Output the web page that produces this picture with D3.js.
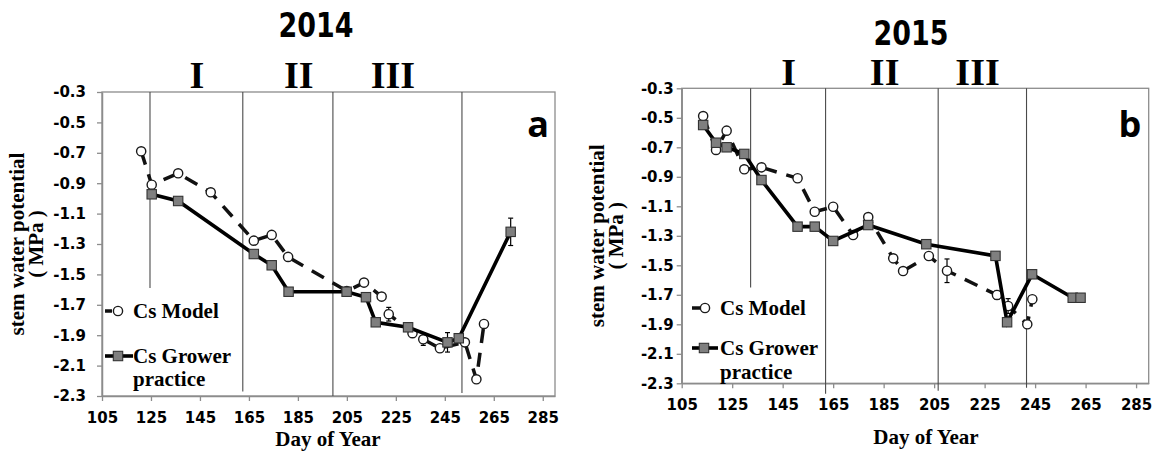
<!DOCTYPE html>
<html>
<head>
<meta charset="utf-8">
<script src="https://cdn.jsdelivr.net/npm/d3@7"></script>
<style>
  body { margin: 0; background: #fff; }
  svg { display: block; }
</style>
</head>
<body>
<div id="chart"></div>
<script>
var width = 1152;
var height = 452;

var xTicks = [105, 125, 145, 165, 185, 205, 225, 245, 265, 285];
var yTicks = [-0.3, -0.5, -0.7, -0.9, -1.1, -1.3, -1.5, -1.7, -1.9, -2.1, -2.3];
var phaseLabels = ["I", "II", "III"];
var seriesNames = ["Cs Model", "Cs Grower", "practice"];

// 2014
var model14Day = [121, 125.3, 136.1, 149.4, 167, 174.3, 181, 205, 212, 219.2, 222.1, 231.8, 236.2, 243, 253.2, 257.9, 261];
var model14Val = [-0.69, -0.91, -0.835, -0.96, -1.278, -1.24, -1.385, -1.61, -1.554, -1.646, -1.762, -1.887, -1.927, -1.986, -1.947, -2.19, -1.826];
var model14Err = [0, 0, 0, 0.025, 0, 0, 0, 0, 0, 0, 0.045, 0, 0.04, 0, 0, 0, 0];
var grower14Day = [125.3, 136.1, 167, 174.3, 181.2, 204.9, 212.8, 216.8, 230, 246.1, 250.7, 271.9];
var grower14Val = [-0.973, -1.017, -1.366, -1.44, -1.614, -1.614, -1.65, -1.815, -1.848, -1.947, -1.92, -1.22];
var grower14Err = [0, 0, 0, 0, 0, 0, 0, 0, 0, 0.064, 0.03, 0.09];
var phase14Day = [124.6, 162.5, 199.3, 252];
var phase14Bottom = [-1.59, -2.27, -2.3, -2.28];
var phase14LabelDay = [143.8, 185.4, 223.8];

// 2015
var model15Day = [113.5, 118.6, 122.8, 129.8, 136.6, 150.9, 157.7, 165, 172.9, 178.9, 188.8, 192.7, 202.9, 210.1, 229.9, 234.3, 241.9, 243.9];
var model15Val = [-0.488, -0.718, -0.587, -0.849, -0.836, -0.91, -1.137, -1.103, -1.295, -1.173, -1.453, -1.539, -1.437, -1.537, -1.701, -1.776, -1.9, -1.73];
var model15Err = [0, 0, 0, 0, 0, 0, 0, 0, 0, 0, 0, 0, 0, 0.08, 0.03, 0.05, 0, 0];
var grower15Day = [113.5, 118.6, 122.8, 129.8, 136.6, 150.9, 157.7, 165, 178.9, 201.9, 229.3, 233.9, 243.8, 259.9, 263];
var grower15Val = [-0.549, -0.669, -0.7, -0.745, -0.922, -1.238, -1.238, -1.335, -1.227, -1.357, -1.436, -1.886, -1.561, -1.72, -1.72];
var grower15Err = [0, 0, 0, 0, 0, 0, 0, 0, 0, 0, 0, 0, 0, 0, 0];
var phase15Day = [132.3, 162, 206.6, 241.6];
var phase15Bottom = [-1.65, -2.37, -2.35, -2.33];
var phase15LabelDay = [147.4, 185.4, 222.2];

var panels = [
  {year: "2014", letter: "a", left: 102, top: 92, right: 555, bottom: 396, yPad: 11,
   titleX: 316, titleY: 37, romanY: 88, letterX: 538, letterY: 137,
   ytitleX: [17, 36], xtitleX: 328, xtitleY: 446,
   legX: 105, legText: 133, legY: [311, 356, 379], legCircle: 118, legSquare: 118, legEnd: [112, 133],
   mDay: model14Day, mVal: model14Val, mErr: model14Err,
   gDay: grower14Day, gVal: grower14Val, gErr: grower14Err,
   phDay: phase14Day, phBottom: phase14Bottom, phLabel: phase14LabelDay},
  {year: "2015", letter: "b", left: 681.7, top: 88.3, right: 1148.7, bottom: 383.3, yPad: 3,
   titleX: 911, titleY: 45, romanY: 85, letterX: 1130, letterY: 137,
   ytitleX: [597, 616], xtitleX: 926, xtitleY: 444,
   legX: 692, legText: 720, legY: [308, 348, 372], legCircle: 705, legSquare: 704, legEnd: [700, 718],
   mDay: model15Day, mVal: model15Val, mErr: model15Err,
   gDay: grower15Day, gVal: grower15Val, gErr: grower15Err,
   phDay: phase15Day, phBottom: phase15Bottom, phLabel: phase15LabelDay}
];

var serif = "'Liberation Serif', 'Times New Roman', serif";
var sans = "'DejaVu Sans', Verdana, sans-serif";

var svg = d3.select("#chart").append("svg")
  .attr("width", width)
  .attr("height", height);

function zip(days, vals, errs) {
  return days.map(function(d, i) { return {day: d, val: vals[i], err: errs[i]}; });
}

function drawPanel(p) {
  var x = d3.scaleLinear().domain([105, 290]).range([p.left, p.right]);
  var y = d3.scaleLinear().domain([-0.3, -2.3]).range([p.top, p.bottom]);
  var g = svg.append("g");

  // plot box
  g.append("rect")
    .attr("x", p.left).attr("y", p.top)
    .attr("width", p.right - p.left).attr("height", p.bottom - p.top)
    .attr("fill", "none").attr("stroke", "#8c8c8c").attr("stroke-width", 1.3);

  // axes
  var xa = g.append("g")
    .attr("transform", "translate(0," + p.bottom + ")")
    .call(d3.axisBottom(x).tickValues(xTicks).tickSize(5).tickSizeOuter(0).tickPadding(11)
      .tickFormat(function(d) { return d; }));
  var ya = g.append("g")
    .attr("transform", "translate(" + p.left + ",0)")
    .call(d3.axisLeft(y).tickValues(yTicks).tickSize(5).tickSizeOuter(0).tickPadding(p.yPad)
      .tickFormat(function(d) { return d.toFixed(1); }));
  [xa, ya].forEach(function(a) {
    a.select(".domain").attr("stroke", "#8c8c8c").attr("stroke-width", 1.5);
    a.selectAll(".tick line").attr("stroke", "#8c8c8c").attr("stroke-width", 1.3);
    a.selectAll(".tick text").attr("fill", "#000")
      .style("font-family", sans).style("font-size", "15px").style("font-weight", "bold");
  });

  // phase dividers
  g.selectAll(".phase").data(p.phDay).enter().append("line")
    .attr("x1", function(d) { return x(d); }).attr("x2", function(d) { return x(d); })
    .attr("y1", y(-0.3)).attr("y2", function(d, i) { return y(p.phBottom[i]); })
    .attr("stroke", "#4a4a4a").attr("stroke-width", 1.1);

  // roman numerals
  g.selectAll(".roman").data(phaseLabels).enter().append("text")
    .attr("x", function(d, i) { return x(p.phLabel[i]); })
    .attr("y", p.romanY)
    .attr("text-anchor", "middle")
    .style("font-family", serif).style("font-size", "38px").style("font-weight", "bold")
    .text(function(d) { return d; });

  // year title
  g.append("text")
    .attr("x", p.titleX).attr("y", p.titleY)
    .attr("text-anchor", "middle")
    .attr("textLength", 75).attr("lengthAdjust", "spacingAndGlyphs")
    .style("font-family", sans).style("font-size", "33px").style("font-weight", "bold")
    .text(p.year);

  // panel letter
  g.append("text")
    .attr("x", p.letterX).attr("y", p.letterY)
    .attr("text-anchor", "middle")
    .style("font-family", "'Open Sans', sans-serif").style("font-size", "36px").style("font-weight", "bold")
    .text(p.letter);

  // axis titles
  var cy = (p.top + p.bottom) / 2;
  ["stem water potential", "( MPa )"].forEach(function(t, i) {
    g.append("text")
      .attr("transform", "translate(" + p.ytitleX[i] + "," + cy + ") rotate(-90)")
      .attr("text-anchor", "middle").attr("dy", "0.35em")
      .style("font-family", serif).style("font-size", "21px").style("font-weight", "bold")
      .text(t);
  });
  g.append("text")
    .attr("x", p.xtitleX).attr("y", p.xtitleY)
    .attr("text-anchor", "middle")
    .style("font-family", serif).style("font-size", "21px").style("font-weight", "bold")
    .text("Day of Year");

  var line = d3.line().x(function(d) { return x(d.day); }).y(function(d) { return y(d.val); });
  var model = zip(p.mDay, p.mVal, p.mErr);
  var grower = zip(p.gDay, p.gVal, p.gErr);

  function errorBars(data) {
    var e = g.selectAll(null).data(data.filter(function(d) { return d.err > 0; })).enter().append("g")
      .attr("stroke", "#000").attr("stroke-width", 1.2);
    e.append("line")
      .attr("x1", function(d) { return x(d.day); }).attr("x2", function(d) { return x(d.day); })
      .attr("y1", function(d) { return y(d.val + d.err); }).attr("y2", function(d) { return y(d.val - d.err); });
    [1, -1].forEach(function(s) {
      e.append("line")
        .attr("x1", function(d) { return x(d.day) - 2.5; }).attr("x2", function(d) { return x(d.day) + 2.5; })
        .attr("y1", function(d) { return y(d.val + s * d.err); }).attr("y2", function(d) { return y(d.val + s * d.err); });
    });
  }

  // model series
  errorBars(model);
  g.append("path").datum(model)
    .attr("d", line).attr("fill", "none")
    .attr("stroke", "#111").attr("stroke-width", 3.5).attr("stroke-dasharray", "14,10");
  g.selectAll(".mdot").data(model).enter().append("circle")
    .attr("cx", function(d) { return x(d.day); }).attr("cy", function(d) { return y(d.val); })
    .attr("r", 4.6).attr("fill", "#fff").attr("stroke", "#1a1a1a").attr("stroke-width", 1.4);

  // grower series
  errorBars(grower);
  g.append("path").datum(grower)
    .attr("d", line).attr("fill", "none")
    .attr("stroke", "#000").attr("stroke-width", 3.6);
  g.selectAll(".gdot").data(grower).enter().append("rect")
    .attr("x", function(d) { return x(d.day) - 4.7; }).attr("y", function(d) { return y(d.val) - 4.7; })
    .attr("width", 9.4).attr("height", 9.4)
    .attr("fill", "#7f7f7f").attr("stroke", "#333").attr("stroke-width", 1.1);

  // legend
  var lg = g.append("g");
  lg.append("line").attr("x1", p.legX).attr("x2", p.legEnd[0])
    .attr("y1", p.legY[0]).attr("y2", p.legY[0]).attr("stroke", "#111").attr("stroke-width", 3.5);
  lg.append("circle").attr("cx", p.legCircle).attr("cy", p.legY[0]).attr("r", 4.6)
    .attr("fill", "#fff").attr("stroke", "#1a1a1a").attr("stroke-width", 1.4);
  lg.append("line").attr("x1", p.legX).attr("x2", p.legEnd[1])
    .attr("y1", p.legY[1]).attr("y2", p.legY[1]).attr("stroke", "#000").attr("stroke-width", 3.6);
  lg.append("rect").attr("x", p.legSquare - 4.7).attr("y", p.legY[1] - 4.7)
    .attr("width", 9.4).attr("height", 9.4)
    .attr("fill", "#7f7f7f").attr("stroke", "#333").attr("stroke-width", 1.1);
  seriesNames.forEach(function(t, i) {
    lg.append("text")
      .attr("x", p.legText).attr("y", p.legY[i]).attr("dy", "0.33em")
      .style("font-family", serif).style("font-size", "21px").style("font-weight", "bold")
      .text(t);
  });
}

panels.forEach(drawPanel);
</script>
</body>
</html>
